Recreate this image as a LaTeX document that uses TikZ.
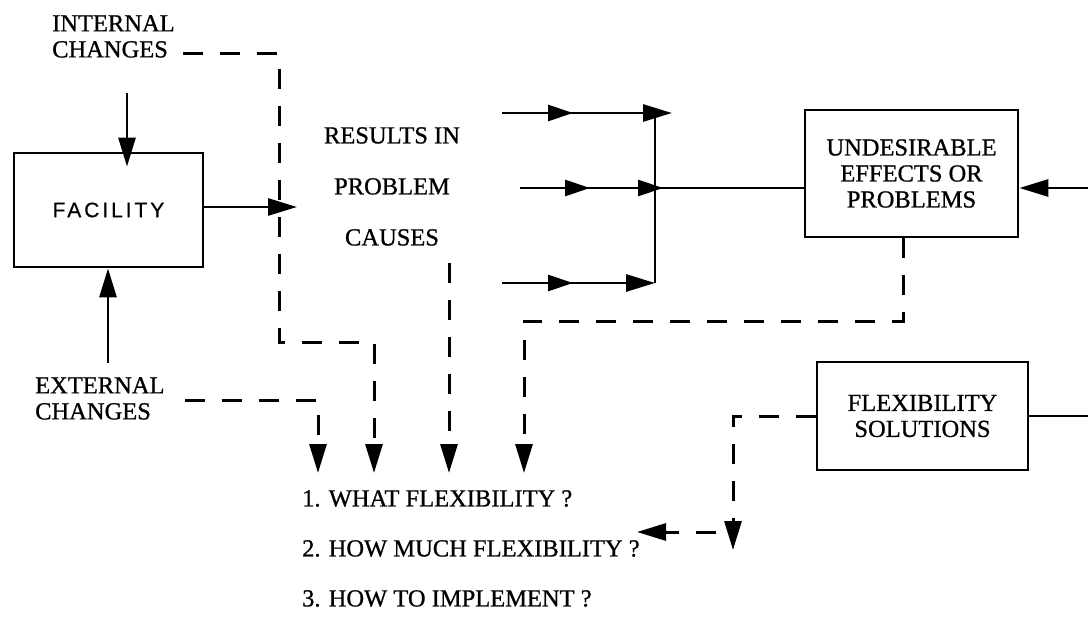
\documentclass[tikz,border=0pt]{standalone}
\usepackage{fontspec}
\setmainfont{Liberation Serif}[FakeBold=0.8]
\newfontfamily\facfont{Liberation Sans}[LetterSpace=14,FakeBold=0.6]
\usetikzlibrary{arrows.meta,decorations.markings,calc}
\begin{document}
\begin{tikzpicture}[x=1pt,y=-1pt,
  every node/.style={inner sep=0pt, font=\fontsize{24.5}{26}\selectfont},
  box/.style={draw, line width=2.8pt, inner sep=0pt},
  ln/.style={line width=2.8pt},
  arr/.style={ln, -{Triangle[length=29pt 0 0,width=17pt 0 0]}},
  dsh/.style={line width=3pt, dash pattern=on 20pt off 17pt},
  darr/.style={dsh, -{Triangle[length=29pt 0 0,width=17pt 0 0]}},
  midtipone/.style={postaction={decorate}, decoration={markings, mark=at position #1 with {\arrow{Triangle[length=25pt 0 0,width=16pt 0 0]}}}},
  midtiptwo/.style 2 args={postaction={decorate}, decoration={markings, mark=at position #1 with {\arrow{Triangle[length=25pt 0 0,width=16pt 0 0]}}, mark=at position #2 with {\arrow{Triangle[length=25pt 0 0,width=16pt 0 0]}}}},
]
\useasboundingbox (0,0) rectangle (1088,618);

% nodes
\node[box, minimum width=189pt, minimum height=114pt, font=\facfont\fontsize{21}{24}\selectfont] (fac) at (108.5,210) {FACILITY};
\node[box, minimum width=213pt, minimum height=127pt, align=center] (und) at (911.5,173.5) {UNDESIRABLE\\EFFECTS OR\\PROBLEMS};
\node[box, minimum width=211pt, minimum height=108pt, align=center] (flex) at (922.5,416) {FLEXIBILITY\\SOLUTIONS};
\node[anchor=north west, align=left] (int) at (52,15) {INTERNAL\\CHANGES};
\node[anchor=north west, align=left] (ext) at (35,377) {EXTERNAL\\CHANGES};
\node[anchor=north, align=center, font=\fontsize{24.5}{51}\selectfont] (res) at (392,127) {RESULTS IN\\PROBLEM\\CAUSES};
\node[anchor=north west, align=left, font=\fontsize{24.5}{50}\selectfont] (q) at (302,490) {1. WHAT FLEXIBILITY ?\\2. HOW MUCH FLEXIBILITY ?\\3. HOW TO IMPLEMENT ?};

% coordinates
\coordinate (inTop) at (127,93);
\coordinate (exBot) at (108,363);
\coordinate (resIn) at (297,207);
\coordinate (t1) at (502,113);
\coordinate (t2) at (672,113);
\coordinate (jt) at (655,113);
\coordinate (jb) at (655,283);
\coordinate (m1) at (520,188);
\coordinate (b1) at (502,283);
\coordinate (rIn) at (1088,188);
\coordinate (rOut) at (1088,416);
\coordinate (iA) at (183,54);
\coordinate (iB) at (279,342);
\coordinate (eA) at (185,400);
\coordinate (cA) at (449,263);
\coordinate (qa1) at (318,473);
\coordinate (qa2) at (374,473);
\coordinate (qa3) at (449,473);
\coordinate (qa4) at (524,473);
\coordinate (uC) at (524,321);
\coordinate (fA) at (733,550);
\coordinate (fB) at (733,532);
\coordinate (fC) at (637,532);

% solid connectors
\draw[arr, shorten >=-15pt] (inTop) -- (inTop |- fac.north);
\draw[arr] (exBot) -- (exBot |- fac.south);
\draw[arr] (fac.east |- resIn) -- (resIn);
\draw[arr, midtipone=71pt] (t1) -- (t2);
\draw[ln, midtiptwo={70pt}{143pt}] (m1) -- (und.west |- m1);
\draw[arr, midtipone=71pt] (b1) -- (jb);
\draw[ln] (jt) -- (jb);
\draw[arr] (rIn) -- (und.east |- rIn);
\draw[ln] (flex.east) -- (rOut);

% dashed connectors
\draw[darr] (iA) -| (iB) -| (qa2);
\draw[darr] (eA) -| (qa1);
\draw[darr] (cA) -- (qa3);
\draw[darr] ([xshift=-8.5pt]und.south) |- (uC) -- (qa4);
\draw[darr] (flex.west) -| (fA);
\draw[darr, dash phase=20pt] (fB) -- (fC);
\end{tikzpicture}
\end{document}
